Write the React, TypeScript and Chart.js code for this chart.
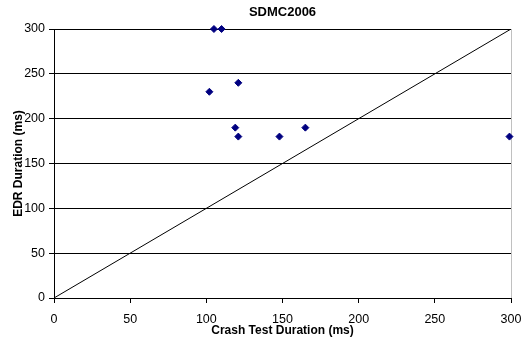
import React, { useEffect, useRef } from 'react';
import { Chart, registerables } from 'chart.js';

Chart.register(...registerables);

const chartTitle = 'SDMC2006';
const xAxisTitle = 'Crash Test Duration (ms)';
const yAxisTitle = 'EDR Duration (ms)';

// Scatter data
const crashTestDurations = [105, 110, 102, 121, 119, 121, 148, 165, 299];
const edrDurations = [300, 300, 230, 240, 190, 180, 180, 190, 180];

// Reference line y = x
const refLineX = [0, 300];
const refLineY = [0, 300];

const axisMin = 0;
const axisMax = 300;
const axisStep = 50;

const FONT = "'Liberation Sans', Arial, sans-serif";

export default function App() {
  const canvasRef = useRef<HTMLCanvasElement | null>(null);

  useEffect(() => {
    if (!canvasRef.current) return;
    const points = crashTestDurations.map((x, i) => ({ x, y: edrDurations[i] }));
    const line = refLineX.map((x, i) => ({ x, y: refLineY[i] }));

    const chart = new Chart(canvasRef.current, {
      type: 'scatter',
      data: {
        datasets: [
          {
            label: 'EDR vs Crash Test',
            data: points,
            pointStyle: 'rectRot',
            pointRadius: 3.5,
            pointHoverRadius: 3.5,
            backgroundColor: '#000080',
            borderColor: '#000080',
            borderWidth: 1,
            clip: false as any,
            order: 0,
          },
          {
            label: 'y = x',
            data: line,
            showLine: true,
            borderColor: '#000000',
            borderWidth: 1,
            pointRadius: 0,
            fill: false,
            order: 1,
          } as any,
        ],
      },
      options: {
        animation: false,
        responsive: false,
        maintainAspectRatio: false,
        layout: { padding: { left: 0, right: 12, top: 0, bottom: 0 } },
        plugins: {
          legend: { display: false },
          tooltip: { enabled: false },
          title: {
            display: true,
            text: chartTitle,
            fullSize: false,
            color: '#000',
            font: { family: FONT, size: 13, weight: 'bold' },
            padding: { top: 5, bottom: 8.4 },
          },
        },
        scales: {
          x: {
            type: 'linear',
            min: axisMin,
            max: axisMax,
            afterFit: (scale: any) => {
              scale.height = 49;
              scale.paddingLeft = 0;
              scale.paddingRight = 0;
            },
            ticks: {
              stepSize: axisStep,
              color: '#000',
              padding: 9,
              maxRotation: 0,
              font: { family: FONT, size: 12.5 },
            },
            grid: {
              color: (ctx: any) =>
                ctx.tick && ctx.tick.value === axisMax ? '#c0c0c0' : 'rgba(0,0,0,0)',
              tickColor: '#000',
              tickLength: 5,
              lineWidth: 1,
            },
            border: { color: '#000', width: 1 },
            title: {
              display: true,
              text: xAxisTitle,
              color: '#000',
              font: { family: FONT, size: 12, weight: 'bold' },
              padding: { top: 0, bottom: 9 },
            },
          },
          y: {
            type: 'linear',
            min: axisMin,
            max: axisMax,
            afterFit: (scale: any) => {
              scale.width = 54;
            },
            ticks: {
              stepSize: axisStep,
              color: '#000',
              padding: 4,
              font: { family: FONT, size: 12.5 },
            },
            grid: {
              color: '#000',
              tickColor: '#000',
              tickLength: 5,
              lineWidth: 1,
            },
            border: { color: '#000', width: 1 },
            title: {
              display: true,
              text: yAxisTitle,
              color: '#000',
              font: { family: FONT, size: 12, weight: 'bold' },
              padding: { top: 11, bottom: 0 },
            },
          },
        },
      },
    });

    return () => chart.destroy();
  }, []);

  return (
    <div style={{ position: 'absolute', left: 0, top: 0, width: 523, height: 347, background: '#fff' }}>
      <canvas ref={canvasRef} width={523} height={347} style={{ display: 'block' }} />
    </div>
  );
}
